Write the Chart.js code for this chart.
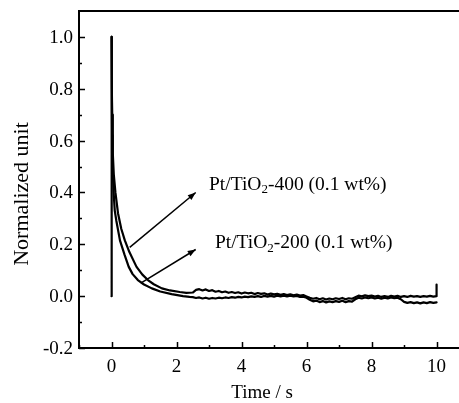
<!DOCTYPE html>
<html><head><meta charset="utf-8">
<script src="https://cdn.jsdelivr.net/npm/chart.js@4"></script>
<style>html,body{margin:0;padding:0;background:#fff}#wrap{width:459px;height:403px}</style>
</head><body><div id="wrap"><canvas id="c" width="459" height="403"></canvas></div>
<script>
// Pt/TiO2-400 (0.1 wt%)
const time400 = [0,0,0.01,0.02,0.04,0.07,0.12,0.2,0.3,0.41,0.55,0.77,0.95,1.12,1.3,1.55,1.8,2.1,2.3,
  2.5,2.6,2.7,2.8,2.9,3.0,3.1,3.2,3.3,3.4,3.5,3.6,3.7,3.8,3.9,4.0,4.1,4.2,4.3,4.4,4.5,4.6,4.7,4.8,4.9,5.0,
  5.1,5.2,5.3,5.4,5.5,5.6,5.7,5.8,5.9,6.0,6.1,6.2,6.3,6.4,6.5,6.6,6.7,6.8,6.9,7.0,7.1,7.2,7.3,7.4,7.5,
  7.6,7.7,7.8,7.9,8.0,8.1,8.2,8.3,8.4,8.5,8.6,8.7,8.8,8.9,9.0,9.1,9.2,9.3,9.4,9.5,9.6,9.7,9.8,9.9,10.0,10.0];
const signal400 = [0,1.0,0.85,0.7,0.55,0.47,0.4,0.32,0.26,0.215,0.17,0.113,0.083,0.062,0.046,0.03,0.022,0.016,0.013,
  0.014,0.024,0.027,0.022,0.026,0.02,0.023,0.017,0.02,0.015,0.018,0.013,0.016,0.012,0.015,0.01,0.014,0.011,0.013,0.008,0.012,0.009,0.011,0.006,0.01,0.007,
  0.009,0.005,0.008,0.004,0.007,0.003,0.006,0.002,0.004,-0.001,-0.006,-0.01,-0.007,-0.012,-0.008,-0.013,-0.009,-0.012,-0.008,-0.011,-0.007,-0.012,-0.008,-0.01,-0.004,
  0.002,-0.001,0.003,0.0,0.002,-0.002,0.001,-0.003,0.0,-0.003,0.001,-0.002,0.001,-0.003,0.0,-0.003,0.001,-0.002,0.0,-0.003,0.0,-0.002,0.001,-0.002,0.0,0.045];
// Pt/TiO2-200 (0.1 wt%)
const time200 = [0,0.01,0.02,0.035,0.06,0.1,0.15,0.26,0.4,0.53,0.65,0.81,1.0,1.24,1.5,1.85,2.2,2.4,
  2.5,2.6,2.7,2.8,2.9,3.0,3.1,3.2,3.3,3.4,3.5,3.6,3.7,3.8,3.9,4.0,4.1,4.2,4.3,4.4,4.5,4.6,4.7,4.8,4.9,5.0,
  5.1,5.2,5.3,5.4,5.5,5.6,5.7,5.8,5.9,6.0,6.1,6.2,6.3,6.4,6.5,6.6,6.7,6.8,6.9,7.0,7.1,7.2,7.3,7.4,7.5,
  7.6,7.7,7.8,7.9,8.0,8.1,8.2,8.3,8.4,8.5,8.6,8.7,8.8,8.9,9.0,9.1,9.2,9.3,9.4,9.5,9.6,9.7,9.8,9.9,10.0];
const signal200 = [1.0,0.8,0.62,0.5,0.41,0.33,0.29,0.215,0.16,0.113,0.085,0.062,0.045,0.03,0.018,0.008,0.0,-0.003,
  -0.004,-0.007,-0.005,-0.009,-0.006,-0.01,-0.007,-0.009,-0.006,-0.008,-0.005,-0.007,-0.004,-0.006,-0.003,-0.005,-0.002,-0.004,-0.001,-0.003,0.0,-0.003,0.001,-0.002,0.001,-0.002,
  0.002,-0.001,0.002,-0.001,0.002,-0.001,0.001,-0.003,-0.002,-0.006,-0.014,-0.02,-0.017,-0.023,-0.019,-0.024,-0.02,-0.023,-0.019,-0.022,-0.018,-0.023,-0.019,-0.021,-0.012,
  -0.006,-0.009,-0.005,-0.008,-0.005,-0.009,-0.006,-0.01,-0.006,-0.009,-0.005,-0.008,-0.006,-0.012,-0.022,-0.026,-0.023,-0.027,-0.024,-0.028,-0.024,-0.027,-0.023,-0.026,-0.024];
const xTickLabels = ['0','2','4','6','8','10'];
const yTickLabels = ['-0.2','0.0','0.2','0.4','0.6','0.8','1.0'];

const pts = (t, v) => t.map((x, i) => ({x, y: v[i]}));

// annotations (data coordinates)
const notes = [
  {from:[0.56,0.188], to:[2.59,0.40], label:['Pt/TiO','2','-400 (0.1 wt%)'], at:[3.0,0.43]},
  {from:[0.9,0.05], to:[2.59,0.18], label:['Pt/TiO','2','-200 (0.1 wt%)'], at:[3.18,0.204]}
];

const FONT = '"Liberation Serif", "Times New Roman", serif';

const deco = {
  id: 'deco',
  afterDraw(chart) {
    const ctx = chart.ctx, xs = chart.scales.x, ys = chart.scales.y, a = chart.chartArea;
    ctx.save();
    ctx.strokeStyle = '#000'; ctx.fillStyle = '#000';
    // frame
    ctx.lineWidth = 2;
    ctx.beginPath();
    ctx.moveTo(a.left, a.top); ctx.lineTo(a.right + 2, a.top);
    ctx.moveTo(a.left, a.top - 1); ctx.lineTo(a.left, a.bottom + 1);
    ctx.moveTo(a.left - 1, a.bottom); ctx.lineTo(a.right + 2, a.bottom);
    ctx.stroke();
    // ticks (inward)
    ctx.lineWidth = 1.5;
    ctx.beginPath();
    for (let v = -1; v <= 10.5; v += 1) {
      const px = Math.round(xs.getPixelForValue(v)) + 0.5;
      const len = (v % 2 === 0) ? 6 : 3;
      ctx.moveTo(px, a.bottom); ctx.lineTo(px, a.bottom - len);
    }
    for (let k = -2; k <= 10; k++) {
      const py = Math.round(ys.getPixelForValue(k / 10)) + 0.5;
      const len = (k % 2 === 0) ? 6 : 3;
      ctx.moveTo(a.left, py); ctx.lineTo(a.left + len, py);
    }
    ctx.stroke();
    // tick labels
    ctx.font = '19px ' + FONT;
    ctx.textAlign = 'center'; ctx.textBaseline = 'middle';
    xTickLabels.forEach(l => ctx.fillText(l, xs.getPixelForValue(parseFloat(l)), 367));
    ctx.textAlign = 'right';
    yTickLabels.forEach(l => ctx.fillText(l, 73, ys.getPixelForValue(parseFloat(l)) + 1));
    // axis titles
    ctx.textAlign = 'center';
    ctx.font = '19px ' + FONT;
    ctx.fillText('Time / s', 262, 393);
    ctx.save();
    ctx.translate(22, 194); ctx.rotate(-Math.PI / 2);
    ctx.font = '22px ' + FONT;
    ctx.fillText('Normalized unit', 0, 0);
    ctx.restore();
    // arrows + labels
    notes.forEach(n => {
      const x1 = xs.getPixelForValue(n.from[0]), y1 = ys.getPixelForValue(n.from[1]);
      const x2 = xs.getPixelForValue(n.to[0]), y2 = ys.getPixelForValue(n.to[1]);
      ctx.lineWidth = 1.5;
      ctx.beginPath(); ctx.moveTo(x1, y1); ctx.lineTo(x2, y2); ctx.stroke();
      const ang = Math.atan2(y2 - y1, x2 - x1), L = 8, W = 3;
      ctx.beginPath();
      ctx.moveTo(x2, y2);
      ctx.lineTo(x2 - L * Math.cos(ang) + W * Math.sin(ang), y2 - L * Math.sin(ang) - W * Math.cos(ang));
      ctx.lineTo(x2 - L * Math.cos(ang) - W * Math.sin(ang), y2 - L * Math.sin(ang) + W * Math.cos(ang));
      ctx.closePath(); ctx.fill();
      let lx = xs.getPixelForValue(n.at[0]); const ly = ys.getPixelForValue(n.at[1]);
      ctx.textAlign = 'left'; ctx.textBaseline = 'middle';
      ctx.font = '19.5px ' + FONT;
      ctx.fillText(n.label[0], lx, ly); lx += ctx.measureText(n.label[0]).width;
      ctx.font = '13px ' + FONT;
      ctx.fillText(n.label[1], lx, ly + 5); lx += ctx.measureText(n.label[1]).width;
      ctx.font = '19.5px ' + FONT;
      ctx.fillText(n.label[2], lx, ly);
    });
    ctx.restore();
  }
};

const lineStyle = {borderColor: '#000', borderWidth: 2.2, pointRadius: 0, tension: 0, fill: false,
  borderJoinStyle: 'round', borderCapStyle: 'round'};

new Chart(document.getElementById('c'), {
  type: 'line',
  data: {
    datasets: [
      Object.assign({label: 'Pt/TiO2-400 (0.1 wt%)', data: pts(time400, signal400)}, lineStyle),
      Object.assign({label: 'Pt/TiO2-200 (0.1 wt%)', data: pts(time200, signal200)}, lineStyle)
    ]
  },
  options: {
    responsive: false, animation: false, devicePixelRatio: 1,
    layout: {padding: {top: 11, right: 0, left: 0, bottom: 0}},
    plugins: {legend: {display: false}, tooltip: {enabled: false}},
    scales: {
      x: {type: 'linear', min: -1, max: 10.69,
          grid: {display: false}, border: {display: false},
          ticks: {display: false},
          afterFit(s) { s.height = 55; }},
      y: {type: 'linear', min: -0.2, max: 1.1,
          grid: {display: false}, border: {display: false},
          ticks: {display: false},
          afterFit(s) { s.width = 79; }}
    }
  },
  plugins: [deco]
});
</script></body></html>
